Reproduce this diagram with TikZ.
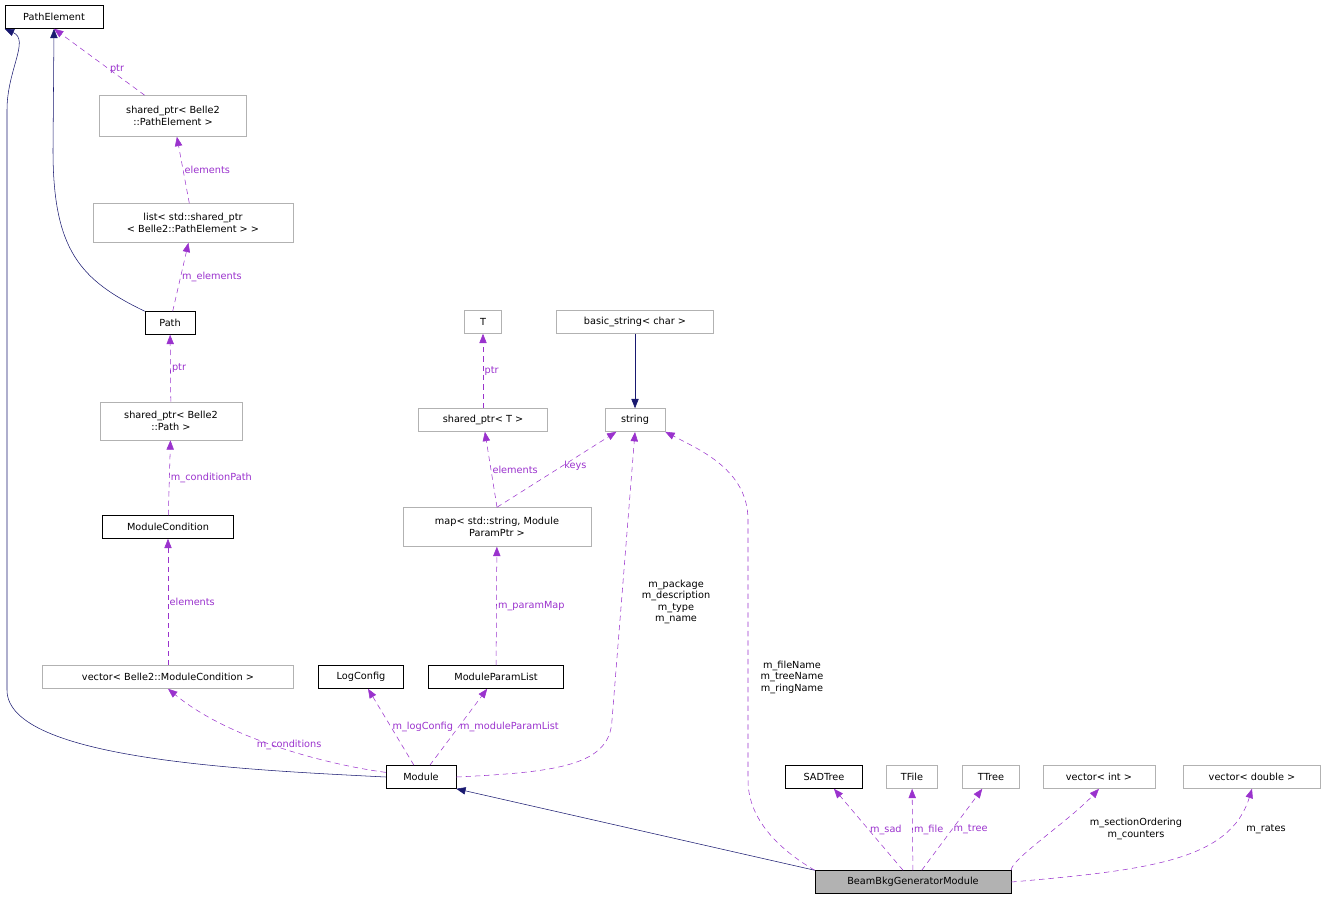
\documentclass[tikz,border=0pt]{standalone}
\usepackage{fontspec}
\setmainfont{DejaVu Sans}
\usetikzlibrary{arrows.meta}
\definecolor{dpurple}{HTML}{9A32CD}
\definecolor{dnavy}{HTML}{191970}
\tikzset{
 bx/.style={draw=black,fill=white,inner sep=0pt,font=\fontsize{7.3}{8.6}\selectfont,align=center,minimum height=23*0.75pt,minimum width=#1*0.75pt},
 gx/.style={bx=#1,draw=black!30},
 dep/.style={dpurple,dashed,dash pattern=on 4pt off 3pt,-{Triangle[length=7pt,width=5.5pt]}},
 inh/.style={dnavy,-{Triangle[length=7pt,width=5.5pt]}},
 lb/.style={font=\fontsize{7.3}{8.6}\selectfont,align=center,inner sep=1pt}
}
\begin{document}
\begin{tikzpicture}[x=0.75pt,y=-0.75pt]
\useasboundingbox (0,0) rectangle (1327,901);
\node[bx=98] (pe) at (54,17) {PathElement};
\node[gx=147,minimum height=41*0.75pt] (spe) at (173,116) {shared\_ptr< Belle2\\::PathElement >};
\node[gx=200,minimum height=39*0.75pt] (lst) at (193,223) {list< std::shared\_ptr\\< Belle2::PathElement > >};
\node[bx=50] (path) at (170,323) {Path};
\node[gx=142,minimum height=38*0.75pt] (sp) at (171,421) {shared\_ptr< Belle2\\::Path >};
\node[bx=131] (mc) at (168,527) {ModuleCondition};
\node[gx=251] (vmc) at (168,677) {vector< Belle2::ModuleCondition >};
\node[bx=85] (lc) at (361,677) {LogConfig};
\node[bx=135] (mpl) at (496,677) {ModuleParamList};
\node[bx=70] (mod) at (421,777) {Module};
\node[gx=37] (T) at (483,322) {T};
\node[gx=129] (spt) at (483,420) {shared\_ptr< T >};
\node[gx=188,minimum height=39*0.75pt] (map) at (497,527) {map< std::string, Module\\ParamPtr >};
\node[gx=157] (bs) at (635,322) {basic\_string< char >};
\node[gx=60] (str) at (635,420) {string};
\node[bx=77] (sad) at (824,777) {SADTree};
\node[gx=51] (tf) at (912,777) {TFile};
\node[gx=57] (tt) at (991,777) {TTree};
\node[gx=112] (vi) at (1099,777) {vector< int >};
\node[gx=137] (vd) at (1252,777) {vector< double >};
\node[bx=196,fill=black!30] (bb) at (913,882) {BeamBkgGeneratorModule};

\draw[inh] (mod.west) .. controls (250,770) and (7,760) .. (7,690) -- (7,110) .. controls (7,70) and (30,40) .. (pe.south west);
\draw[inh] (path.north west) .. controls (80,280) and (53,250) .. (53,150) -- (pe.south);
\draw[inh] (bb.north west) -- (mod.south east);
\draw[inh] (bs) -- (str);

\draw[dep] (spe) -- node[lb,right,pos=0.4]{ptr} (pe.south);
\draw[dep] (lst) -- node[lb,right]{elements} (spe);
\draw[dep] (path) -- node[lb,right]{m\_elements} (lst);
\draw[dep] (sp) -- node[lb,right]{ptr} (path);
\draw[dep] (mc) -- node[lb,right]{m\_conditionPath} (sp);
\draw[dep] (vmc) -- node[lb,right]{elements} (mc);
\draw[dep] (mod) .. controls (330,765) and (230,740) .. node[lb,pos=0.6,below right]{m\_conditions} (vmc.south);
\draw[dep] (mod) -- node[lb,pos=0.5,right]{m\_logConfig} (lc);
\draw[dep] (mod) -- node[lb,pos=0.5,right]{m\_moduleParamList} (mpl);
\draw[dep] (mod.east) .. controls (560,772) and (610,765) .. (612,720) -- (635,432);
\node[lb] at (676,602) {m\_package\\m\_description\\m\_type\\m\_name};
\draw[dep] (mpl) -- node[lb,right]{m\_paramMap} (map);
\draw[dep] (map.north) -- node[lb,right]{elements} (spt);
\draw[dep] (map.north) -- node[lb,right,pos=0.55]{keys} (str);
\draw[dep] (spt) -- node[lb,right]{ptr} (T);
\draw[dep] (bb.north west) .. controls (780,850) and (748,820) .. (748,780) -- (748,520) .. controls (748,470) and (700,450) .. (str.south east);
\node[lb] at (792,677) {m\_fileName\\m\_treeName\\m\_ringName};
\draw[dep] (bb) -- node[lb,right]{m\_sad} (sad);
\draw[dep] (bb) -- node[lb,right]{m\_file} (tf);
\draw[dep] (bb) -- node[lb,right]{m\_tree} (tt);
\draw[dep] (bb.north east) .. controls (1010,860) and (1070,820) .. (vi.south);
\node[lb] at (1136,829) {m\_sectionOrdering\\m\_counters};
\draw[dep] (bb.east) .. controls (1150,870) and (1230,860) .. (vd.south);
\node[lb] at (1266,829) {m\_rates};
\end{tikzpicture}
\end{document}
